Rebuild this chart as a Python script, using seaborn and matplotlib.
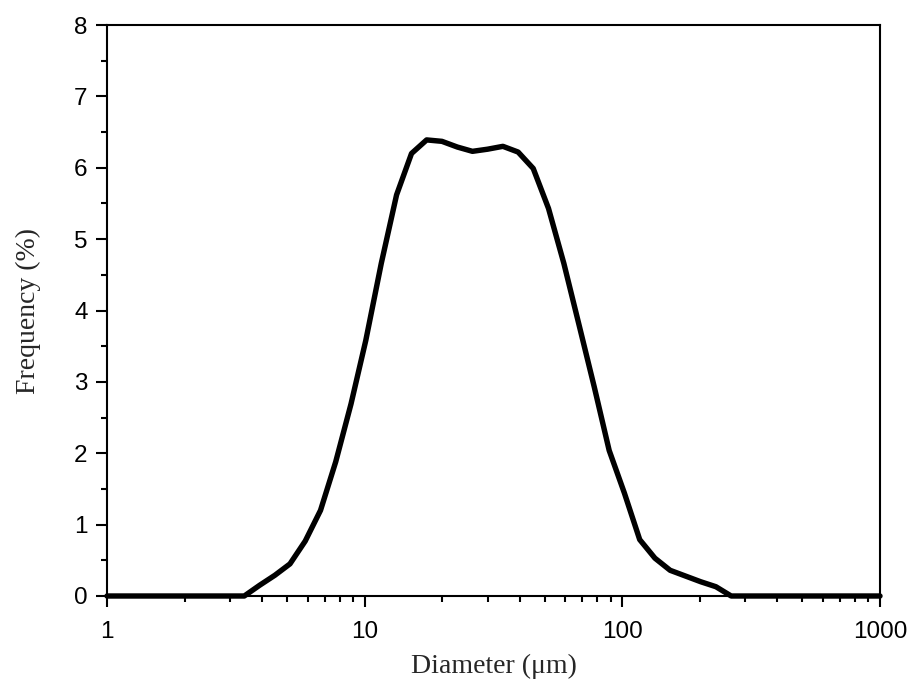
import matplotlib
matplotlib.use("Agg")
import matplotlib.pyplot as plt
import seaborn as sns
import pandas as pd
from matplotlib.ticker import LogLocator, FixedLocator, MultipleLocator, NullFormatter

# Data
diameter_um = [1.0, 3.41, 3.91, 4.48, 5.13, 5.88, 6.74, 7.72, 8.85, 10.1, 11.6,
               13.3, 15.2, 17.4, 19.95, 22.9, 26.2, 30.0, 34.4, 39.4, 45.1,
               51.7, 59.3, 67.9, 77.8, 88.9, 101.9, 116.8, 133.8, 153.3, 175.7,
               201.4, 230.8, 264.5, 1000.0]
frequency_pct = [0.0, 0.0, 0.15, 0.29, 0.45, 0.77, 1.20, 1.88, 2.69, 3.58, 4.66,
                 5.62, 6.20, 6.39, 6.37, 6.29, 6.23, 6.26, 6.30, 6.22, 5.99,
                 5.43, 4.66, 3.80, 2.93, 2.04, 1.44, 0.79, 0.53, 0.36, 0.28,
                 0.20, 0.13, 0.0, 0.0]
x_major_ticks = [1, 10, 100, 1000]
x_tick_labels = ["1", "10", "100", "1000"]
y_major_ticks = [0, 1, 2, 3, 4, 5, 6, 7, 8]

df = pd.DataFrame({"Diameter": diameter_um, "Frequency": frequency_pct})

sns.set_theme(style="ticks")
plt.rcParams["font.family"] = ["Liberation Sans", "DejaVu Sans"]

fig = plt.figure(figsize=(9.09, 6.84), dpi=100)
ax = fig.add_axes([107 / 909, 88 / 684, (880 - 107) / 909, (596 - 25) / 684])

sns.lineplot(data=df, x="Diameter", y="Frequency", ax=ax, color="black",
             linewidth=3.9, clip_on=False, solid_joinstyle="round")

ax.set_xscale("log")
ax.set_xlim(1, 1000)
ax.set_ylim(0, 8)

ax.xaxis.set_major_locator(FixedLocator(x_major_ticks))
ax.set_xticklabels(x_tick_labels)
ax.xaxis.set_minor_locator(LogLocator(base=10, subs=[2, 3, 4, 5, 6, 7, 8, 9]))
ax.xaxis.set_minor_formatter(NullFormatter())
ax.yaxis.set_major_locator(FixedLocator(y_major_ticks))
ax.yaxis.set_minor_locator(MultipleLocator(0.5))

for s in ax.spines.values():
    s.set_linewidth(1.5)
    s.set_color("black")

ax.tick_params(which="major", direction="out", length=8, width=1.5,
               labelsize=17.5, pad=6, colors="black")
ax.tick_params(which="minor", direction="out", length=4.5, width=1.5,
               colors="black")
ax.tick_params(axis="x", which="major", pad=10)

ax.set_xlabel("Diameter (μm)", fontsize=20, family=["Liberation Serif", "DejaVu Serif"],
              labelpad=8)
ax.set_ylabel("Frequency (%)", fontsize=20, family=["Liberation Serif", "DejaVu Serif"],
              labelpad=24)

fig.savefig("out.png", dpi=100, facecolor="white")
